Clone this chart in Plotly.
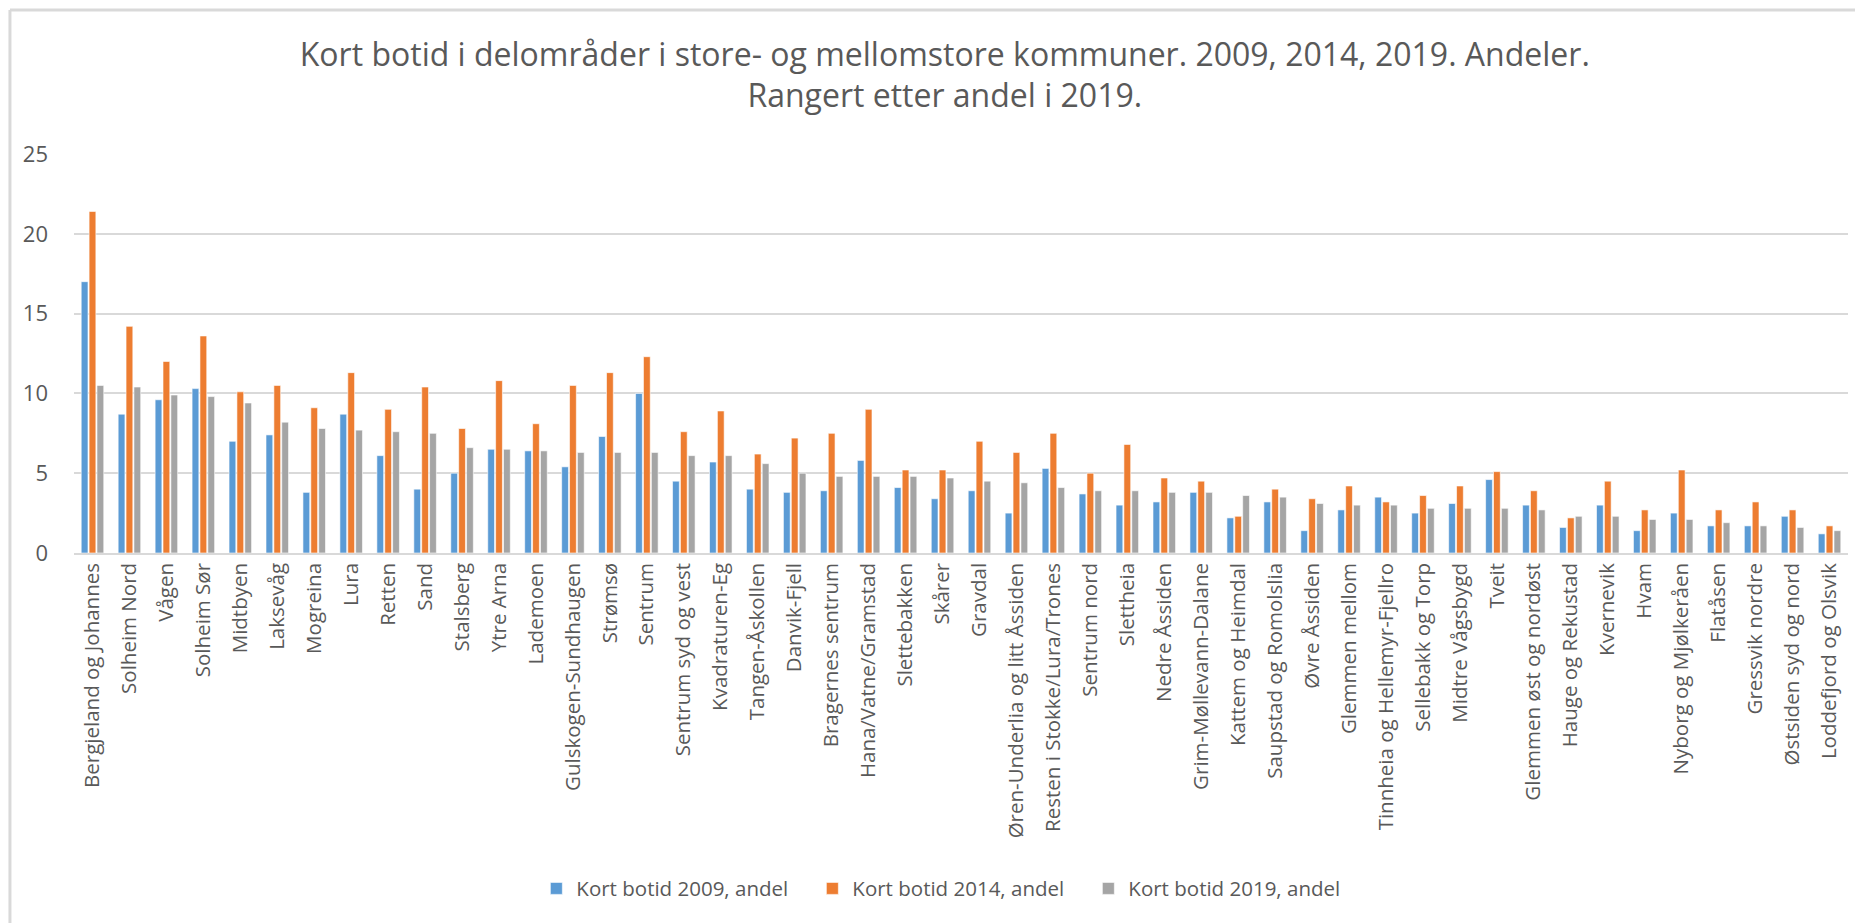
import plotly.graph_objects as go

categories = [
    "Bergjeland og Johannes", "Solheim Nord", "Vågen", "Solheim Sør", "Midtbyen",
    "Laksevåg", "Mogreina", "Lura", "Retten", "Sand", "Stalsberg", "Ytre Arna",
    "Lademoen", "Gulskogen-Sundhaugen", "Strømsø", "Sentrum", "Sentrum syd og vest",
    "Kvadraturen-Eg", "Tangen-Åskollen", "Danvik-Fjell", "Bragernes sentrum",
    "Hana/Vatne/Gramstad", "Slettebakken", "Skårer", "Gravdal",
    "Øren-Underlia og litt Åssiden", "Resten i Stokke/Lura/Trones", "Sentrum nord",
    "Slettheia", "Nedre Åssiden", "Grim-Møllevann-Dalane", "Kattem og Heimdal",
    "Saupstad og Romolslia", "Øvre Åssiden", "Glemmen mellom",
    "Tinnheia og Hellemyr-Fjellro", "Sellebakk og Torp", "Midtre Vågsbygd", "Tveit",
    "Glemmen øst og nordøst", "Hauge og Rekustad", "Kvernevik", "Hvam",
    "Nyborg og Mjølkeråen", "Flatåsen", "Gressvik nordre", "Østsiden syd og nord",
    "Loddefjord og Olsvik",
]

kort_botid_2009 = [
    17.0, 8.7, 9.6, 10.3, 7.0, 7.4, 3.8, 8.7, 6.1, 4.0, 5.0, 6.5,
    6.4, 5.4, 7.3, 10.0, 4.5, 5.7, 4.0, 3.8, 3.9, 5.8, 4.1, 3.4,
    3.9, 2.5, 5.3, 3.7, 3.0, 3.2, 3.8, 2.2, 3.2, 1.4, 2.7, 3.5,
    2.5, 3.1, 4.6, 3.0, 1.6, 3.0, 1.4, 2.5, 1.7, 1.7, 2.3, 1.2,
]
kort_botid_2014 = [
    21.4, 14.2, 12.0, 13.6, 10.1, 10.5, 9.1, 11.3, 9.0, 10.4, 7.8, 10.8,
    8.1, 10.5, 11.3, 12.3, 7.6, 8.9, 6.2, 7.2, 7.5, 9.0, 5.2, 5.2,
    7.0, 6.3, 7.5, 5.0, 6.8, 4.7, 4.5, 2.3, 4.0, 3.4, 4.2, 3.2,
    3.6, 4.2, 5.1, 3.9, 2.2, 4.5, 2.7, 5.2, 2.7, 3.2, 2.7, 1.7,
]
kort_botid_2019 = [
    10.5, 10.4, 9.9, 9.8, 9.4, 8.2, 7.8, 7.7, 7.6, 7.5, 6.6, 6.5,
    6.4, 6.3, 6.3, 6.3, 6.1, 6.1, 5.6, 5.0, 4.8, 4.8, 4.8, 4.7,
    4.5, 4.4, 4.1, 3.9, 3.9, 3.8, 3.8, 3.6, 3.5, 3.1, 3.0, 3.0,
    2.8, 2.8, 2.8, 2.7, 2.3, 2.3, 2.1, 2.1, 1.9, 1.7, 1.6, 1.4,
]

series_names = ["Kort botid 2009, andel", "Kort botid 2014, andel", "Kort botid 2019, andel"]
series_values = [kort_botid_2009, kort_botid_2014, kort_botid_2019]
series_colors = ["#5B9BD5", "#ED7D31", "#A5A5A5"]

title_text = ("Kort botid i delområder i store- og mellomstore kommuner. 2009, 2014, 2019. Andeler."
              "<br>Rangert etter andel i 2019.")

fig = go.Figure()
for name, vals, col in zip(series_names, series_values, series_colors):
    fig.add_trace(go.Bar(
        x=categories, y=vals, name=name,
        marker=dict(color=col, line=dict(color="white", width=0.6)),
    ))

font_family = "Open Sans"
text_color = "#595959"

# frame lines (top and left) like the Excel chart border
fig.add_shape(type="line", xref="paper", yref="paper", layer="above",
              x0=-0.0361, x1=1.02, y0=1.361, y1=1.361,
              line=dict(color="#D9D9D9", width=3))
fig.add_shape(type="line", xref="paper", yref="paper", layer="above",
              x0=-0.0361, x1=-0.0361, y0=1.361, y1=-1.0,
              line=dict(color="#D9D9D9", width=3))

fig.update_layout(
    width=1855, height=915,
    margin=dict(l=66, r=15, t=146, b=370, autoexpand=False),
    paper_bgcolor="white", plot_bgcolor="white",
    font=dict(family=font_family, color=text_color),
    title=dict(text=title_text, x=0.505, xref="container", xanchor="center",
               y=0.937, yref="container", yanchor="middle",
               font=dict(family=font_family, size=32, color=text_color)),
    barmode="group", bargap=0.36, bargroupgap=0.14,
    showlegend=True,
    legend=dict(orientation="h", x=0.494, xanchor="center", y=-0.841, yanchor="middle",
                font=dict(family=font_family, size=20.5, color=text_color),
                entrywidth=231, itemwidth=30, traceorder="normal"),
)
fig.update_xaxes(
    tickangle=-90, tickfont=dict(family=font_family, size=20.5, color=text_color),
    showline=True, linecolor="#D9D9D9", linewidth=1.5, ticks="", showgrid=False,
    ticklabelstandoff=0, automargin=False,
)
fig.update_yaxes(
    range=[0, 25], dtick=5, tickfont=dict(family=font_family, size=22, color=text_color),
    showgrid=True, gridcolor="#D9D9D9", gridwidth=1.5, zeroline=False,
    showline=False, ticks="", ticklabelstandoff=25, automargin=False,
)

fig.write_html("out.html")
